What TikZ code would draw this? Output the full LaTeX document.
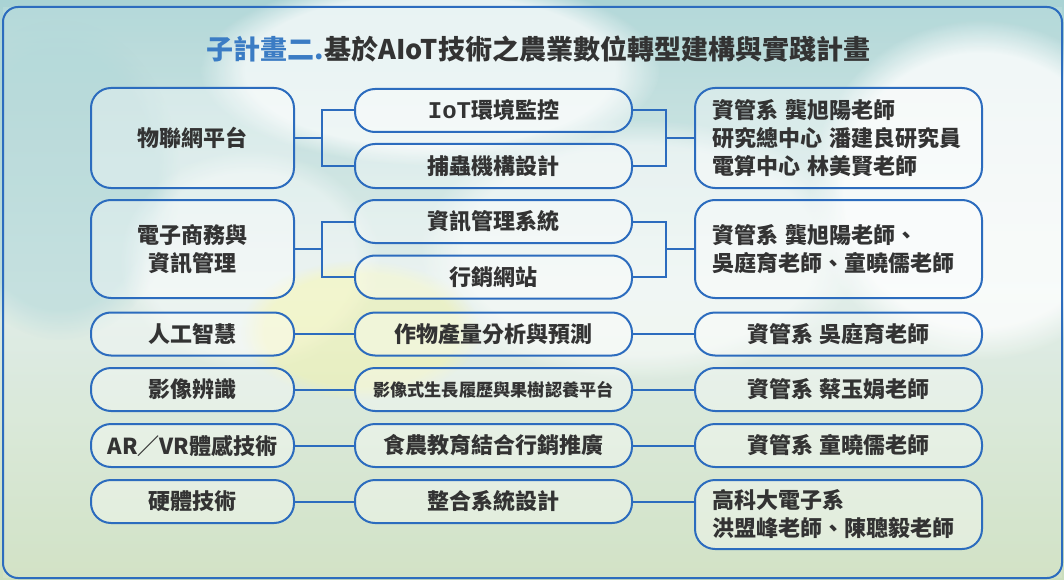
\documentclass[tikz,border=0pt]{standalone}
\usepackage{fontspec}
\setmainfont{Noto Sans CJK TC}
\newfontfamily\monof{Liberation Mono}
\usetikzlibrary{fadings}
\definecolor{frameblue}{HTML}{2C6CBE}
\definecolor{titleblue}{HTML}{3B7CC4}
\definecolor{txt}{HTML}{333333}
\definecolor{skytop}{HTML}{A9D3D4}
\definecolor{skymid}{HTML}{DCEBE6}
\definecolor{grass}{HTML}{CCDFBE}
\tikzset{
  box/.style={draw=frameblue, line width=2pt, rounded corners=20pt, fill=white, fill opacity=0.35, text opacity=1, text=txt, font=\fontsize{22}{28}\selectfont\bfseries, inner sep=0pt, align=center},
  lbox/.style={box, minimum width=203pt},
  mbox/.style={box, minimum width=277pt},
  rbox/.style={box, minimum width=287pt},
  rleft/.style={rbox, inner xsep=17pt, text width=253pt, align=left},
  link/.style={draw=frameblue, line width=2pt},
  cloud/.style={fill=white, path fading=circle with fuzzy edge 20 percent},
}
\begin{document}
\begin{tikzpicture}[x=1pt,y=-1pt]
\useasboundingbox (0,0) rectangle (1064,580);
% background
\shade[top color=skytop, bottom color=grass, middle color=skymid] (0,0) rectangle (1064,580);
\fill[skytop, path fading=circle with fuzzy edge 20 percent, opacity=0.6] (60,180) ellipse (120 and 160);
\fill[cloud, opacity=0.7] (430,70) ellipse (230 and 95);
\fill[cloud, opacity=0.8] (980,190) ellipse (170 and 170);
\fill[cloud, opacity=0.55] (640,250) ellipse (220 and 130);
\fill[cloud, opacity=0.4] (250,260) ellipse (130 and 110);
\fill[yellow!50, path fading=circle with fuzzy edge 20 percent, opacity=0.35] (360,330) ellipse (120 and 70);
\fill[white, opacity=0.12] (3,7) rectangle (1062,578);
% frame
\draw[frameblue, line width=2pt, rounded corners=15pt] (3,7) rectangle (1062,578);
% title
\node[font=\fontsize{27}{32}\selectfont\bfseries, text=txt] (title) at (538.5,49) {\textcolor{titleblue}{子計畫二.}基於AIoT技術之農業數位轉型建構與實踐計畫};
% row 1
\node[lbox, minimum height=100pt] (L1) at (192.5,138) {物聯網平台};
\node[mbox, minimum height=43pt] (M1a) at (493.5,110.5) {{\monof\fontsize{24}{28}\selectfont IoT}環境監控};
\node[mbox, minimum height=44pt] (M1b) at (493.5,166) {捕蟲機構設計};
\node[rleft, minimum height=100pt] (R1) at (838.5,138) {資管系 龔旭陽老師\\研究總中心 潘建良研究員\\電算中心 林美賢老師};
% row 2
\node[lbox, minimum height=98pt] (L2) at (192.5,249) {電子商務與\\資訊管理};
\node[mbox, minimum height=43pt] (M2a) at (493.5,221.5) {資訊管理系統};
\node[mbox, minimum height=43pt] (M2b) at (493.5,277) {行銷網站};
\node[rleft, minimum height=98pt] (R2) at (838.5,249) {資管系 龔旭陽老師、\\吳庭育老師、童曉儒老師};
% row 3
\node[lbox, minimum height=43pt] (L3) at (192.5,334) {人工智慧};
\node[mbox, minimum height=43pt] (M3) at (493.5,334) {作物產量分析與預測};
\node[rbox, minimum height=43pt] (R3) at (838.5,334) {資管系 吳庭育老師};
% row 4
\node[lbox, minimum height=43pt] (L4) at (192.5,389.5) {影像辨識};
\node[mbox, minimum height=43pt, font=\fontsize{17.2}{22}\selectfont\bfseries] (M4) at (493.5,389.5) {影像式生長履歷與果樹認養平台};
\node[rbox, minimum height=43pt] (R4) at (838.5,389.5) {資管系 蔡玉娟老師};
% row 5
\node[lbox, minimum height=43pt] (L5) at (192.5,445.5) {AR／VR體感技術};
\node[mbox, minimum height=43pt] (M5) at (493.5,445.5) {食農教育結合行銷推廣};
\node[rbox, minimum height=43pt] (R5) at (838.5,445.5) {資管系 童曉儒老師};
% row 6
\node[lbox, minimum height=43pt] (L6) at (192.5,501.5) {硬體技術};
\node[mbox, minimum height=43pt] (M6) at (493.5,501.5) {整合系統設計};
\node[rleft, minimum height=69pt] (R6) at (838.5,514.5) {高科大電子系\\洪盟峰老師、陳聰毅老師};
% connectors
\coordinate (b1l) at (322,138);
\coordinate (b1r) at (666,138);
\coordinate (b2l) at (322,249);
\coordinate (b2r) at (666,249);
\draw[link] (L1.east) -- (b1l);
\draw[link] (M1a.west) -| (b1l) |- (M1b.west);
\draw[link] (M1a.east) -| (b1r) |- (M1b.east);
\draw[link] (b1r) -- (R1.west);
\draw[link] (L2.east) -- (b2l);
\draw[link] (M2a.west) -| (b2l) |- (M2b.west);
\draw[link] (M2a.east) -| (b2r) |- (M2b.east);
\draw[link] (b2r) -- (R2.west);
\draw[link] (L3.east) -- (M3.west);
\draw[link] (M3.east) -- (R3.west);
\draw[link] (L4.east) -- (M4.west);
\draw[link] (M4.east) -- (R4.west);
\draw[link] (L5.east) -- (M5.west);
\draw[link] (M5.east) -- (R5.west);
\draw[link] (L6.east) -- (M6.west);
\draw[link] (M6.east) -- (M6.east -| R6.west);
\end{tikzpicture}
\end{document}
